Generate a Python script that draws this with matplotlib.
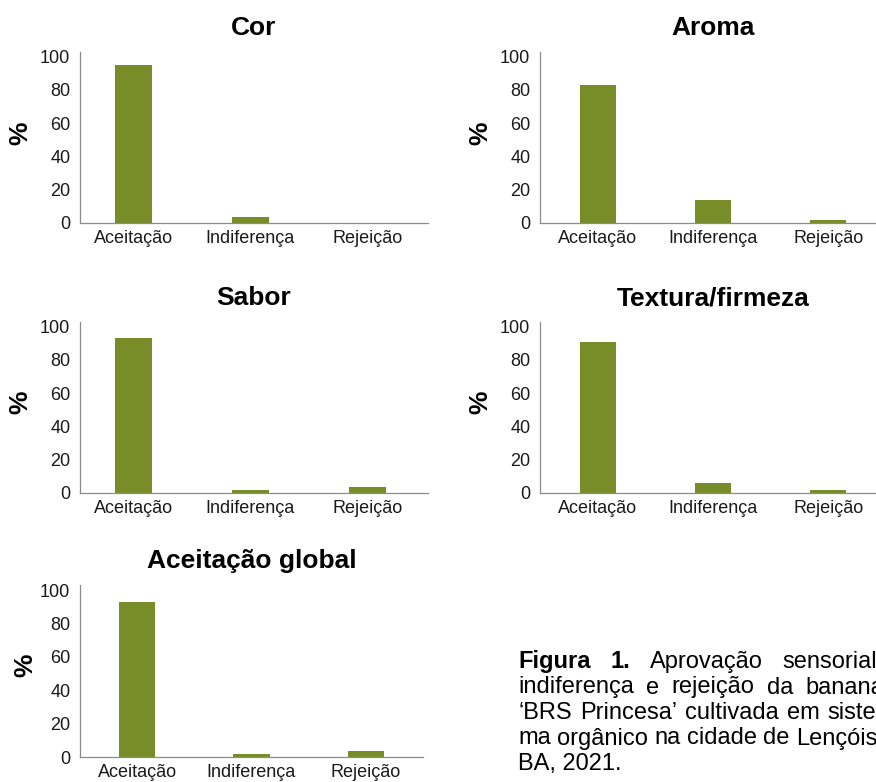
import numpy as np
import matplotlib
matplotlib.use('Agg')
import matplotlib.pyplot as plt

plt.rcParams['font.family'] = ['Liberation Sans', 'DejaVu Sans']

# dados (%)
categorias = ['Aceitação', 'Indiferença', 'Rejeição']
cor = [95, 3.6, 0]
aroma = [83, 13.7, 1.6]
sabor = [93, 1.6, 3.6]
textura = [91, 5.6, 1.6]
aceitacao_global = [93, 2, 4]
titulos = ['Cor', 'Aroma', 'Sabor', 'Textura/firmeza', 'Aceitação global']
yticks = [0, 20, 40, 60, 80, 100]

VERDE = '#788c28'
W, H = 876, 782
fig = plt.figure(figsize=(W / 100, H / 100), dpi=100)


def eixo_px(left, top, right, bottom):
    return fig.add_axes([left / W, 1 - bottom / H, (right - left) / W, (bottom - top) / H])


# caixas dos paineis em pixels: (esq, topo, dir, base), xlim, posicao do "%"
paineis = [
    (cor, (80, 51.7, 428, 222.7), (-0.46, 2.52), (20, 133)),
    (aroma, (540, 51.7, 886, 222.7), (-0.5, 2.5), (480, 133)),
    (sabor, (80, 321.7, 428, 492.7), (-0.46, 2.52), (20, 402)),
    (textura, (540, 321.7, 886, 492.7), (-0.5, 2.5), (480, 402)),
    (aceitacao_global, (80, 585, 423, 757.3), (-0.5, 2.5), (25, 665)),
]

for (valores, caixa, xl, pos_pct), titulo in zip(paineis, titulos):
    ax = eixo_px(*caixa)
    x = np.arange(len(categorias))
    ax.bar(x, valores, width=0.315, color=VERDE)
    ax.set_xlim(*xl)
    ax.set_ylim(0, 103)
    ax.set_yticks(yticks)
    ax.set_xticks(x)
    ax.set_xticklabels(categorias)
    ax.tick_params(axis='y', length=0, pad=7, labelsize=13, labelcolor='#1a1a1a')
    ax.tick_params(axis='x', length=0, pad=5, labelsize=13, labelcolor='#1a1a1a')
    for s in ['top', 'right']:
        ax.spines[s].set_visible(False)
    for s in ['left', 'bottom']:
        ax.spines[s].set_color('#8c8c8c')
        ax.spines[s].set_linewidth(0.9)
    ax.set_title(titulo, fontsize=19, fontweight='bold', pad=12)
    fig.text(pos_pct[0] / W, 1 - pos_pct[1] / H, '%', fontsize=19, fontweight='bold',
             rotation=90, ha='center', va='center')

# legenda da figura (texto justificado, cortado na borda direita como no original)
linhas = [
    (['Figura', '1.', 'Aprovação', 'sensorial,'], 2),
    (['indiferença', 'e', 'rejeição', 'da', 'banana'], 0),
    (['‘BRS', 'Princesa’', 'cultivada', 'em', 'siste-'], 0),
    (['ma', 'orgânico', 'na', 'cidade', 'de', 'Lençóis,'], 0),
]
base_y = [668, 693.5, 719, 744.5, 770]
ESQ, DIR = 518, 884
TAM = 17

renderer = fig.canvas.get_renderer()
for (palavras, n_negrito), y in zip(linhas, base_y):
    textos = []
    for i, p in enumerate(palavras):
        t = fig.text(0, 1 - y / H, p, fontsize=TAM, va='baseline', ha='left',
                     fontweight='bold' if i < n_negrito else 'normal')
        textos.append(t)
    larguras = [t.get_window_extent(renderer).width for t in textos]
    gap = max((DIR - ESQ - sum(larguras)) / (len(textos) - 1), 4)
    xpos = ESQ
    for t, w in zip(textos, larguras):
        t.set_x(xpos / W)
        xpos += w + gap

fig.text(ESQ / W, 1 - base_y[4] / H, 'BA, 2021.', fontsize=TAM, va='baseline', ha='left')

fig.savefig('out.png', dpi=100)
